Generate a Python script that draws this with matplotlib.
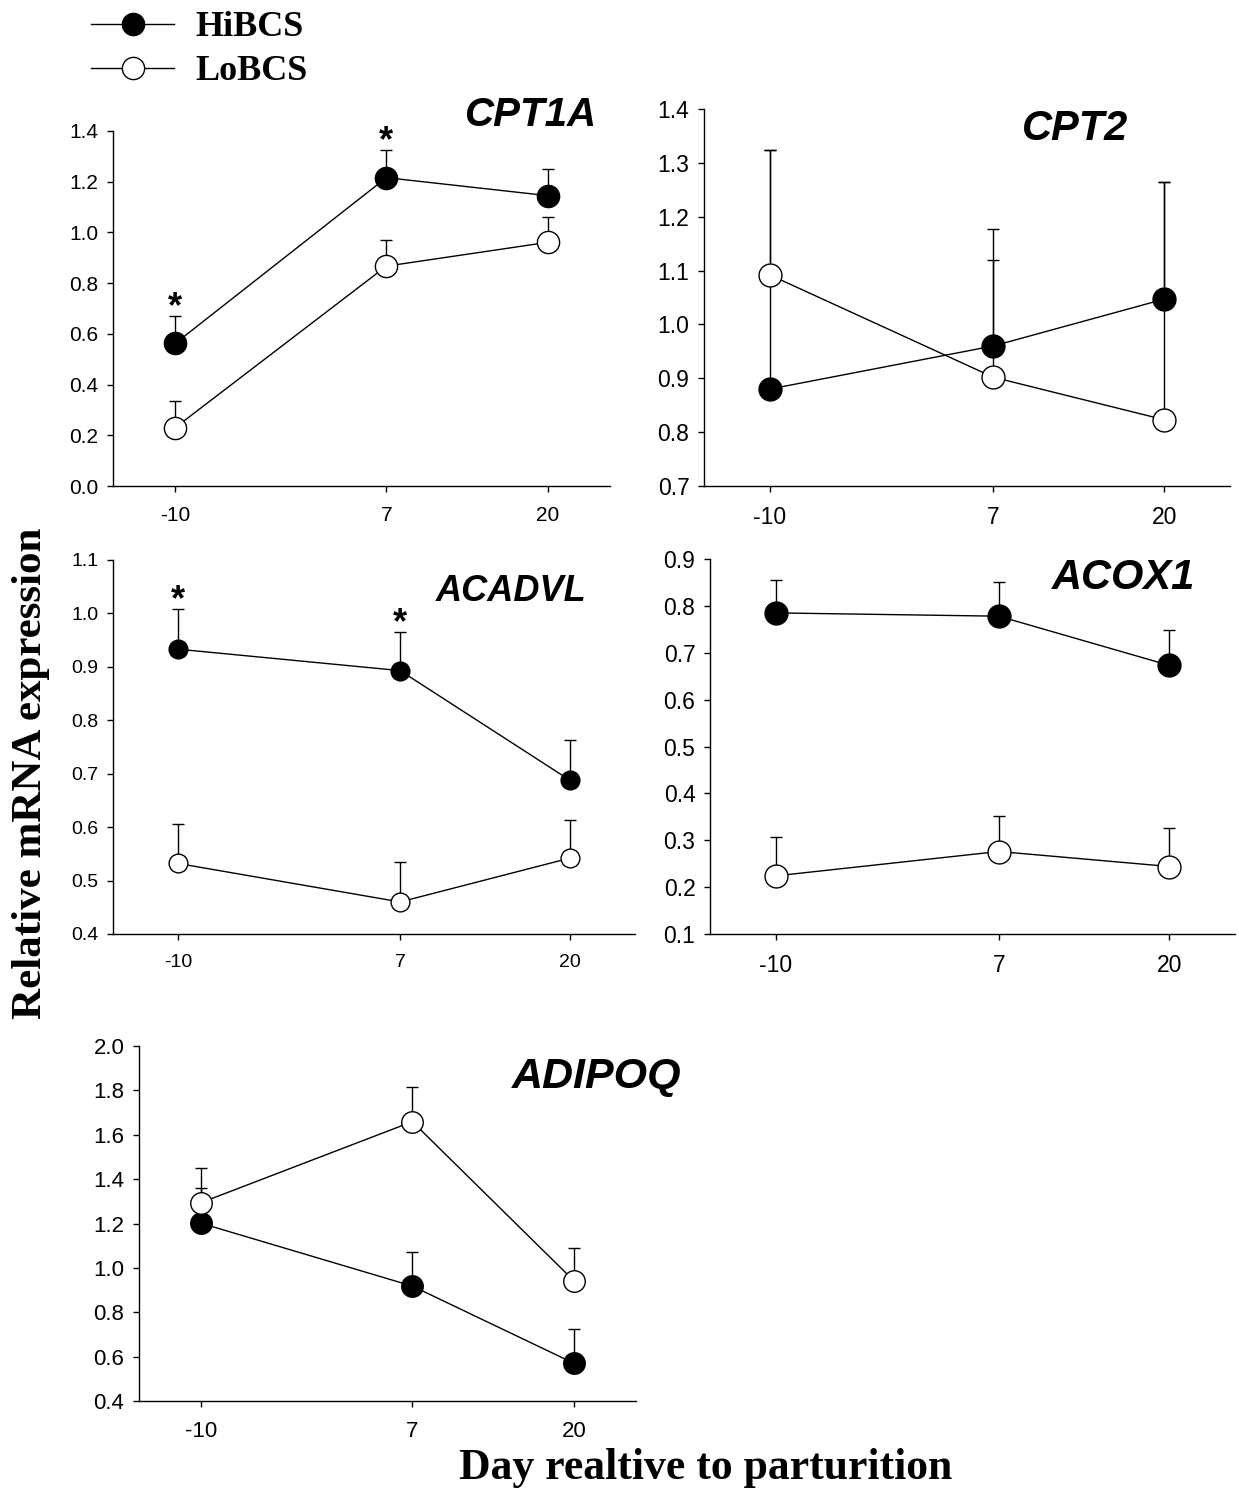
import matplotlib
matplotlib.use("Agg")
import matplotlib.pyplot as plt
import numpy as np

# data
days = [-10, 7, 20]

cpt1a_hi = [0.562, 1.216, 1.145]
cpt1a_hi_se = [0.108, 0.108, 0.105]
cpt1a_lo = [0.230, 0.867, 0.961]
cpt1a_lo_se = [0.104, 0.103, 0.098]
cpt1a_sig = [True, True, False]

cpt2_hi = [0.880, 0.960, 1.047]
cpt2_hi_se = [0.443, 0.218, 0.217]
cpt2_lo = [1.092, 0.902, 0.823]
cpt2_lo_se = [0.231, 0.218, 0.441]
cpt2_sig = [False, False, False]

acadvl_hi = [0.933, 0.893, 0.688]
acadvl_hi_se = [0.076, 0.072, 0.075]
acadvl_lo = [0.532, 0.460, 0.542]
acadvl_lo_se = [0.074, 0.075, 0.072]
acadvl_sig = [True, True, False]

acox1_hi = [0.785, 0.778, 0.673]
acox1_hi_se = [0.071, 0.073, 0.076]
acox1_lo = [0.224, 0.276, 0.244]
acox1_lo_se = [0.082, 0.076, 0.083]
acox1_sig = [False, False, False]

adipoq_hi = [1.201, 0.918, 0.570]
adipoq_hi_se = [0.161, 0.155, 0.155]
adipoq_lo = [1.294, 1.659, 0.942]
adipoq_lo_se = [0.158, 0.155, 0.146]
adipoq_sig = [False, False, False]

W, H = 1239, 1494
fig = plt.figure(figsize=(W / 100, H / 100), dpi=100)
fig.patch.set_facecolor("white")

SANS = ["Liberation Sans", "DejaVu Sans"]
SERIF = ["Liberation Serif", "DejaVu Serif"]


def px_rect(l, r, t, b):
    return [l / W, 1 - b / H, (r - l) / W, (b - t) / H]


def panel(rect, hi, hi_se, lo, lo_se, sig, ylim, ystep, tick_fs, ms):
    ax = fig.add_axes(px_rect(*rect))
    for y, se in ((hi, hi_se), (lo, lo_se)):
        ax.errorbar(days, y, yerr=[np.zeros(len(se)), se], fmt="none",
                    ecolor="k", elinewidth=1.0, capsize=4, capthick=1.0, zorder=1)
    l_hi, = ax.plot(days, hi, "-o", color="k", lw=1.0, ms=ms, mfc="k",
                    mec="k", mew=1.0, zorder=3, label="HiBCS")
    l_lo, = ax.plot(days, lo, "-o", color="k", lw=1.0, ms=ms, mfc="white",
                    mec="k", mew=1.0, zorder=3, label="LoBCS")
    for d, top, s in zip(days, np.array(hi) + np.array(hi_se), sig):
        if s:
            ax.annotate("*", xy=(d, top), xytext=(0, -1), textcoords="offset points",
                        ha="center", va="baseline", fontsize=26, fontweight="bold",
                        family=SANS)
    ax.set_xlim(-15, 25)
    ax.set_ylim(*ylim)
    ax.set_xticks(days)
    ax.set_xticklabels([str(d) for d in days])
    ax.set_yticks(np.round(np.arange(ylim[0], ylim[1] + ystep / 2, ystep), 2))
    ax.yaxis.set_major_formatter(matplotlib.ticker.FormatStrFormatter("%.1f"))
    for s in ("top", "right"):
        ax.spines[s].set_visible(False)
    for s in ("left", "bottom"):
        ax.spines[s].set_linewidth(1.0)
    ax.tick_params(direction="out", length=4.5, width=1.0, labelsize=tick_fs)
    ax.tick_params(axis="x", pad=10)
    ax.tick_params(axis="y", pad=6)
    for lab in ax.get_xticklabels() + ax.get_yticklabels():
        lab.set_family(SANS)
    ax.patch.set_alpha(0)
    return ax, l_hi, l_lo


ax1, h_hi, h_lo = panel((113, 610, 131, 486), cpt1a_hi, cpt1a_hi_se, cpt1a_lo,
                        cpt1a_lo_se, cpt1a_sig, (0.0, 1.4), 0.2, 15, 16)
panel((704, 1230, 109, 486), cpt2_hi, cpt2_hi_se, cpt2_lo, cpt2_lo_se,
      cpt2_sig, (0.7, 1.4), 0.1, 16.5, 16.5)
panel((113, 635, 560, 934), acadvl_hi, acadvl_hi_se, acadvl_lo, acadvl_lo_se,
      acadvl_sig, (0.4, 1.1), 0.1, 14, 13.5)
panel((710, 1235, 559, 934), acox1_hi, acox1_hi_se, acox1_lo, acox1_lo_se,
      acox1_sig, (0.1, 0.9), 0.1, 16.5, 16.5)
panel((139, 636, 1046, 1401), adipoq_hi, adipoq_hi_se, adipoq_lo, adipoq_lo_se,
      adipoq_sig, (0.4, 2.0), 0.2, 16, 15.5)

# gene names
genes = [("CPT1A", 596, 126, 29), ("CPT2", 1128, 140, 30), ("ACADVL", 586, 601, 26),
         ("ACOX1", 1195, 589, 30), ("ADIPOQ", 682, 1088, 31)]
for name, xr, yb, fs in genes:
    fig.text(xr / W, 1 - yb / H, name, ha="right", va="baseline", fontsize=fs,
             fontweight="bold", fontstyle="italic", family=SANS)

# axis labels
fig.text(31 / W, 1 - 773 / H, "Relative mRNA expression", rotation=90,
         ha="center", va="center", fontsize=31, fontweight="bold", family=SERIF)
fig.text(706 / W, 1 - 1479 / H, "Day realtive to parturition", ha="center",
         va="baseline", fontsize=31.5, fontweight="bold", family=SERIF)

leg = fig.legend([h_hi, h_lo], ["HiBCS", "LoBCS"], loc="upper left",
                 bbox_to_anchor=(91 / W, 1 - 11 / H), frameon=False,
                 handlelength=2.3, handletextpad=0.6, labelspacing=0.3,
                 borderpad=0, borderaxespad=0,
                 prop={"family": SERIF, "weight": "bold", "size": 26})

fig.savefig("out.png", dpi=100)
